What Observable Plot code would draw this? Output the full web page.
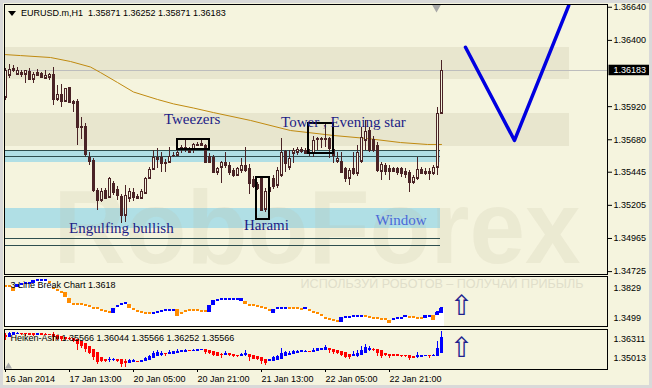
<!DOCTYPE html>
<html><head><meta charset="utf-8">
<script src="https://cdn.jsdelivr.net/npm/d3@7"></script>
<script src="https://cdn.jsdelivr.net/npm/@observablehq/plot@0.6"></script>
<style>
html,body{margin:0;padding:0;background:#fff;}
#chart{position:relative;width:652px;height:388px;background:#F5F4DE;overflow:hidden;font-family:"Liberation Sans",Arial,sans-serif;font-size:9px;color:#000;}
#chart svg{position:absolute;left:0;}
#edge{position:absolute;left:0;top:0;width:652px;height:388px;box-shadow:inset 0 0 0 3px #D9D9D9;pointer-events:none;z-index:5;}
#hdr{position:absolute;left:21px;top:8px;white-space:pre;line-height:11px;z-index:4;}
#tri{position:absolute;left:8px;top:11px;width:0;height:0;border-left:4px solid transparent;border-right:4px solid transparent;border-top:5px solid #000;z-index:4;}
</style></head>
<body><div id="chart"><div id="tri"></div><div id="hdr"></div><div id="edge"></div></div>
<script>
// ---------- main candles (EURUSD.m H1) ----------
const open = [
1.35986,1.36145,1.36196,1.36153,1.36167,1.36153,1.36174,1.36116,1.36167,1.36160,
1.36124,1.36131,1.36153,1.35972,1.36008,1.35957,1.36058,1.35957,1.35957,1.35769,
1.35776,1.35552,1.35530,1.35313,1.35240,1.35313,1.35262,1.35363,1.35320,1.35269,
1.35132,1.35255,1.35298,1.35269,1.35255,1.35291,1.35399,1.35465,1.35552,1.35552,
1.35508,1.35515,1.35566,1.35566,1.35617,1.35609,1.35609,1.35609,1.35646,1.35653,
1.35638,1.35559,1.35552,1.35443,1.35479,1.35515,1.35494,1.35457,1.35421,1.35457,
1.35494,1.35472,1.35392,1.35356,1.35407,1.35175,1.35305,1.35399,1.35349,1.35421,
1.35595,1.35479,1.35581,1.35588,1.35609,1.35602,1.35581,1.35581,1.35682,1.35682,
1.35682,1.35689,1.35609,1.35523,1.35523,1.35472,1.35399,1.35472,1.35436,1.35523,
1.35675,1.35747,1.35682,1.35638,1.35450,1.35494,1.35472,1.35472,1.35472,1.35472,
1.35450,1.35443,1.35370,1.35399,1.35465,1.35450,1.35450,1.35436,1.35479,1.35871];
const high = [
1.36196,1.36225,1.36218,1.36203,1.36182,1.36182,1.36196,1.36167,1.36189,1.36167,
1.36182,1.36160,1.36203,1.36073,1.36080,1.36051,1.36058,1.35964,1.35972,1.35841,
1.35798,1.35588,1.35544,1.35327,1.35327,1.35327,1.35407,1.35378,1.35342,1.35284,
1.35349,1.35327,1.35327,1.35284,1.35320,1.35407,1.35479,1.35602,1.35617,1.35588,
1.35537,1.35624,1.35588,1.35660,1.35638,1.35675,1.35624,1.35653,1.35660,1.35675,
1.35646,1.35581,1.35566,1.35479,1.35523,1.35588,1.35515,1.35472,1.35479,1.35544,
1.35624,1.35501,1.35414,1.35370,1.35414,1.35327,1.35349,1.35421,1.35479,1.35689,
1.35602,1.35602,1.35617,1.35624,1.35624,1.35617,1.35609,1.35704,1.35696,1.35696,
1.35798,1.35696,1.35653,1.35588,1.35588,1.35479,1.35472,1.35588,1.35638,1.35769,
1.35820,1.35769,1.35704,1.35660,1.35515,1.35508,1.35494,1.35479,1.35479,1.35479,
1.35472,1.35457,1.35421,1.35552,1.35479,1.35472,1.35472,1.35494,1.35914,1.36252];
const low = [
1.35964,1.36124,1.36167,1.36145,1.36131,1.36087,1.36109,1.36087,1.36138,1.36124,
1.36116,1.36109,1.35928,1.35957,1.35914,1.35950,1.35950,1.35877,1.35638,1.35682,
1.35552,1.35494,1.35298,1.35168,1.35226,1.35255,1.35255,1.35276,1.35240,1.35074,
1.35081,1.35226,1.35233,1.35255,1.35255,1.35291,1.35392,1.35457,1.35472,1.35443,
1.35443,1.35508,1.35552,1.35559,1.35581,1.35588,1.35581,1.35581,1.35638,1.35631,
1.35508,1.35508,1.35436,1.35421,1.35363,1.35472,1.35421,1.35407,1.35414,1.35436,
1.35443,1.35284,1.35327,1.35313,1.35160,1.35153,1.35291,1.35320,1.35327,1.35407,
1.35443,1.35457,1.35508,1.35566,1.35581,1.35573,1.35559,1.35552,1.35602,1.35617,
1.35624,1.35544,1.35508,1.35508,1.35436,1.35370,1.35349,1.35421,1.35414,1.35508,
1.35602,1.35588,1.35588,1.35443,1.35385,1.35421,1.35385,1.35443,1.35421,1.35407,
1.35399,1.35298,1.35356,1.35385,1.35436,1.35421,1.35385,1.35421,1.35421,1.35871];
const close = [
1.36182,1.36189,1.36182,1.36182,1.36153,1.36182,1.36116,1.36153,1.36145,1.36131,
1.36145,1.36153,1.35972,1.36008,1.35957,1.36051,1.35950,1.35943,1.35769,1.35776,
1.35573,1.35523,1.35313,1.35240,1.35305,1.35255,1.35399,1.35298,1.35276,1.35132,
1.35276,1.35305,1.35262,1.35255,1.35305,1.35399,1.35465,1.35552,1.35537,1.35508,
1.35515,1.35559,1.35563,1.35588,1.35624,1.35624,1.35588,1.35646,1.35642,1.35638,
1.35515,1.35515,1.35443,1.35472,1.35515,1.35494,1.35443,1.35421,1.35472,1.35494,
1.35457,1.35363,1.35342,1.35327,1.35168,1.35305,1.35334,1.35342,1.35457,1.35588,
1.35508,1.35544,1.35602,1.35609,1.35595,1.35581,1.35588,1.35675,1.35689,1.35689,
1.35689,1.35617,1.35566,1.35544,1.35443,1.35399,1.35457,1.35436,1.35588,1.35696,
1.35740,1.35602,1.35602,1.35457,1.35501,1.35450,1.35450,1.35450,1.35443,1.35436,
1.35428,1.35370,1.35407,1.35465,1.35436,1.35436,1.35436,1.35479,1.35871,1.36183];

// moving average (read at points)
const maBar   = [0,3.75,11.25,16.25,21.25,23.75,28,32,38,42,47,52,61.25,71.25,75.5,82,90.5,98.75,105.5,109];
const maPrice = [1.36297,1.36290,1.36276,1.36247,1.36207,1.36167,1.36095,1.36026,1.35972,1.35940,1.35910,1.35877,1.35820,1.35747,1.35733,1.35711,1.35689,1.35660,1.35646,1.35646];

// main y axis
const mainTicks = [1.36640,1.36400,1.35920,1.35680,1.35445,1.35205,1.34965,1.34725];
const mainDomain = [1.34704,1.36660];

// analysis zones
const bandTop = [1.36345,1.35870], bandBottom = [1.36120,1.35631], bandEnd = 141;
const zoneTop = [1.35602,1.35182], zoneBottom = [1.35512,1.35040], zoneEnd = 108.75;
const zoneLines = [1.35602,1.35559,1.34967,1.34914];

// pattern boxes
const boxBar1 = [42.9,62.75,75.8], boxBar2 = [51.1,66.1,82.1];
const boxTop = [1.35680,1.35409,1.35801], boxBottom = [1.35607,1.35104,1.35584];

// notes
const noteText  = ["Tweezers","Tower , Evening star","Engulfing bullish","Harami","Window"];
const noteBar   = [39.6,68.9,15.9,59.6,92.5];
const notePrice = [1.35794,1.35776,1.35005,1.35023,1.35059];
const noteColor = ["#1c1c86","#1c1c86","#1c1c86","#1c1c86","#4a68d8"];

// forecast V
const vBar = [115,127.25,140.8], vPrice = [1.36350,1.35675,1.36652];

// ---------- 3 Line Break ----------
const lbAxis = [1.3829,1.3499];
const lbLevel = [
1.3763,1.3763,1.3743,1.3770,1.3776,1.3783,1.3783,1.3796,1.3803,1.3803,
1.3803,1.3789,1.3750,1.3737,1.3723,1.3704,1.3671,1.3644,1.3644,1.3644,
1.3638,1.3631,1.3618,1.3618,1.3605,1.3598,1.3591,1.3605,1.3631,1.3644,
1.3651,1.3631,1.3611,1.3598,1.3591,1.3585,1.3585,1.3585,1.3591,1.3598,
1.3605,1.3605,1.3605,1.3585,1.3585,1.3598,1.3605,1.3605,1.3605,1.3598,
1.3598,1.3618,1.3657,1.3671,1.3677,1.3677,1.3677,1.3677,1.3677,1.3677,
1.3657,1.3638,1.3638,1.3631,1.3624,1.3618,1.3605,1.3598,1.3618,1.3618,
1.3618,1.3618,1.3618,1.3618,1.3611,1.3618,1.3605,1.3591,1.3585,1.3572,
1.3552,1.3545,1.3539,1.3532,1.3545,1.3558,1.3558,1.3565,1.3565,1.3565,
1.3565,1.3558,1.3552,1.3552,1.3545,1.3545,1.3532,1.3545,1.3552,1.3552,
1.3565,1.3558,1.3558,1.3552,1.3552,1.3565,1.3565,1.3558,1.3591,1.3618];
const lbRunDir = ["o","b","o","b","o","b","o","b","o","b","o","b","o","b","o","b","o","b","o","b"];
const lbRunLen = [3,8,16,4,6,6,8,9,7,4,4,1,8,6,7,4,4,2,1,2];
const lbBlockBar = [2,3,7,15,16,27,31,43,51,52,59,60,67,75,84,96,100,105,107,108,109];
const lbBlockHi  = [1.3756,1.3776,1.3803,1.3723,1.3684,1.3618,1.3644,1.3611,1.3638,1.3671,1.3684,1.3664,1.3611,1.3624,1.3558,1.3539,1.3572,1.3572,1.3572,1.3591,1.3618];
const lbBlockLo  = [1.3730,1.3756,1.3783,1.3690,1.3651,1.3585,1.3618,1.3565,1.3591,1.3638,1.3664,1.3644,1.3585,1.3611,1.3525,1.3519,1.3558,1.3552,1.3539,1.3572,1.3585];
const lbWatermark = "ИСПОЛЬЗУЙ РОБОТОВ – ПОЛУЧАЙ ПРИБЫЛЬ";

// ---------- Heiken Ashi ----------
const haAxis = [1.36311,1.35013];
const haLegend = [1.35566,1.36044,1.35566,1.36252,1.35566];

// ---------- time axis ----------
const timeBars = [0,16,32,48,64,80,96];
const timeLabels = ["16 Jan 2014","17 Jan 13:00","20 Jan 05:00","20 Jan 21:00","21 Jan 13:00","22 Jan 05:00","22 Jan 21:00"];
const arrowBar = 114, lbArrow = 1.3631, haArrow = 1.35695, shiftBar = 107.75;

// ---------- build ----------
const BG = "#F5F4DE", CANDLE = "#4a2326", ORANGE = "#FF8C00", BLUE = "#0000FF";
const N = open.length, last = N - 1, bars = d3.range(N);
const xDomain = [-0.25, 150.5], W = 652;
const FONT = "'Liberation Sans', Arial, sans-serif";
const style = {background: "transparent", fontFamily: FONT, fontSize: "9px", color: "#000", overflow: "visible"};
const L = xDomain[0];

const candles = bars.map(i => ({i, o: open[i], h: high[i], l: low[i], c: close[i], up: close[i] > open[i]}));
const ma = maBar.map((b, k) => ({b, p: maPrice[k]}));
const bands = bandTop.map((t, k) => ({t, b: bandBottom[k]}));
const zones = zoneTop.map((t, k) => ({t, b: zoneBottom[k]}));
const boxes = boxBar1.map((b1, k) => ({b1, b2: boxBar2[k], t: boxTop[k], b: boxBottom[k]}));
const notes = noteText.map((s, k) => ({s, b: noteBar[k], p: notePrice[k], c: noteColor[k]}));
const vline = vBar.map((b, k) => ({b, p: vPrice[k]}));

document.getElementById("hdr").textContent =
  "EURUSD.m,H1  " + [open[last], high[last], low[last], close[last]].map(v => v.toFixed(5)).join(" ");

const main = Plot.plot({
  width: W, height: 275, marginTop: 4, marginBottom: 1, marginLeft: 4, marginRight: 45, style,
  x: {domain: xDomain, axis: null},
  y: {domain: mainDomain},
  marks: [
    Plot.rect(bands, {x1: () => L, x2: () => bandEnd, y1: "b", y2: "t", fill: "#E8E6CE", shapeRendering: "crispEdges"}),
    Plot.rect(zones, {x1: () => L, x2: () => zoneEnd, y1: "b", y2: "t", fill: "#B0DFE5", shapeRendering: "crispEdges"}),
    Plot.text(["RoboForex"], {frameAnchor: "bottom-left", dx: 49, dy: -12, lineAnchor: "bottom", textAnchor: "start",
      fontSize: 104, fontWeight: "bold", fill: "#BDB99A", fillOpacity: 0.17, text: d => d}),
    Plot.ruleY(zoneLines, {y: d => d, x1: () => L, x2: () => zoneEnd, stroke: "#2F4F4F", shapeRendering: "crispEdges"}),
    Plot.ruleY([close[last]], {stroke: "#BDBDBD", shapeRendering: "crispEdges"}),
    Plot.line(ma, {x: "b", y: "p", stroke: "#C08A10", strokeWidth: 1}),
    Plot.ruleX(candles, {x: "i", y1: "l", y2: "h", stroke: CANDLE, shapeRendering: "crispEdges"}),
    Plot.rect(candles, {x1: d => d.i - 0.25, x2: d => d.i + 0.5, y1: d => Math.min(d.o, d.c), y2: d => Math.max(d.o, d.c), fill: CANDLE, shapeRendering: "crispEdges"}),
    Plot.rect(candles.filter(d => d.up), {x1: d => d.i, x2: d => d.i + 0.25, y1: "o", y2: "c", insetTop: 1, insetBottom: 1, fill: BG, shapeRendering: "crispEdges"}),
    Plot.ruleY(candles, {y: "c", x1: d => d.i - 0.25, x2: d => d.i + 0.5, stroke: CANDLE, shapeRendering: "crispEdges"}),
    Plot.ruleY(candles, {y: "o", x1: d => d.i - 0.25, x2: d => d.i + 0.5, stroke: CANDLE, shapeRendering: "crispEdges"}),
    Plot.rect(boxes, {x1: "b1", x2: "b2", y1: "b", y2: "t", fill: "none", stroke: "#000", strokeWidth: 2, shapeRendering: "crispEdges"}),
    Plot.text(notes, {x: "b", y: "p", text: "s", fill: "c", fontFamily: "'Liberation Serif', 'Times New Roman', serif", fontSize: 15, textAnchor: "start", lineAnchor: "bottom"}),
    Plot.line(vline, {x: "b", y: "p", stroke: "#0000E0", strokeWidth: 3.5, clip: true}),
    Plot.dot([shiftBar], {x: d => d, frameAnchor: "top", dy: 3, symbol: "triangle", rotate: 180, r: 3.2, fill: "#A8A8A8", stroke: "none"}),
    Plot.frame({stroke: "#000"}),
    Plot.axisY(mainTicks, {anchor: "right", tickSize: 4, tickPadding: 2, tickFormat: d => d.toFixed(5)}),
    Plot.text([close[last]], {y: d => d, frameAnchor: "right", dx: 6, textAnchor: "start", fill: "white", text: d => d.toFixed(5)})
  ]
});

// 3 line break
const lbDir = lbRunDir.flatMap((d, k) => Array(lbRunLen[k]).fill(d));
const lbData = bars.map(i => ({i, v: lbLevel[i], col: lbDir[i] === "b" ? BLUE : ORANGE}));
const lbBlocks = lbBlockBar.map((i, k) => ({i, hi: lbBlockHi[k], lo: lbBlockLo[k], col: lbDir[i] === "b" ? BLUE : ORANGE}));
const lbTitle = "3 Line Break Chart " + lbLevel[last].toFixed(4);

const lbPlot = Plot.plot({
  width: W, height: 52, marginTop: 1, marginBottom: 1, marginLeft: 4, marginRight: 45, style,
  x: {domain: xDomain, axis: null},
  y: {domain: [lbAxis[1], lbAxis[0]], axis: null},
  marks: [
    Plot.text([lbWatermark], {frameAnchor: "top-left", dx: 296, dy: 7, lineAnchor: "middle", textAnchor: "start", fontSize: 12.5, fill: "#E0DECA", text: d => d}),
    Plot.rect(lbData, {x1: d => d.i - 0.25, x2: d => d.i + 0.75, y1: () => lbAxis[1], y2: "v", fill: "white", shapeRendering: "crispEdges"}),
    Plot.rect(lbData, {x1: d => d.i - 0.25, x2: d => d.i + 0.5, y1: "v", y2: "v", insetTop: -1, insetBottom: -1, fill: "col", shapeRendering: "crispEdges"}),
    Plot.rect(lbBlocks, {x1: d => d.i - 0.5, x2: d => d.i + 0.5, y1: "lo", y2: "hi", fill: "col", shapeRendering: "crispEdges"}),
    Plot.text([lbTitle], {frameAnchor: "top-left", dx: 6, dy: 9, lineAnchor: "middle", textAnchor: "start", text: d => d}),
    Plot.text(["⇧"], {x: () => arrowBar, y: () => lbArrow, fontFamily: "'DejaVu Sans', sans-serif", fontSize: 28, fill: "#1F1F8F", text: d => d}),
    Plot.frame({stroke: "#000"}),
    Plot.text([lbAxis[0]], {frameAnchor: "top-right", dx: 6, dy: 8, textAnchor: "start", text: d => d.toFixed(4)}),
    Plot.text([lbAxis[1]], {frameAnchor: "bottom-right", dx: 6, dy: -6, textAnchor: "start", text: d => d.toFixed(4)})
  ]
});

// Heiken Ashi (computed from candles)
const ha = [];
let po, pc;
bars.forEach(i => {
  const c = (open[i] + high[i] + low[i] + close[i]) / 4;
  const o = i === 0 ? (open[i] + close[i]) / 2 : (po + pc) / 2;
  ha.push({i, o, c, h: Math.max(high[i], o, c), l: Math.min(low[i], o, c), col: c >= o ? BLUE : "#FF0000"});
  po = o; pc = c;
});
const haTitle = "Heiken-Ashi " + haLegend.map(v => v.toFixed(5)).join(" ");
const timeLabelOf = new Map(timeBars.map((b, k) => [b, timeLabels[k]]));

const haPlot = Plot.plot({
  width: W, height: 60, marginTop: 1, marginBottom: 19, marginLeft: 4, marginRight: 45, style,
  x: {domain: xDomain},
  y: {domain: [haAxis[1], haAxis[0]], axis: null},
  marks: [
    Plot.ruleX(ha, {x: "i", y1: "l", y2: "h", stroke: "col", shapeRendering: "crispEdges"}),
    Plot.rect(ha, {x1: d => d.i - 0.25, x2: d => d.i + 0.5, y1: d => Math.min(d.o, d.c), y2: d => Math.max(d.o, d.c), insetTop: -0.5, insetBottom: -0.5, fill: "col", shapeRendering: "crispEdges"}),
    Plot.text([haTitle], {frameAnchor: "top-left", dx: 6, dy: 8.5, lineAnchor: "middle", textAnchor: "start", text: d => d}),
    Plot.text(["⇧"], {x: () => arrowBar, y: () => haArrow, fontFamily: "'DejaVu Sans', sans-serif", fontSize: 28, fill: "#1F1F8F", text: d => d}),
    Plot.dot([0], {frameAnchor: "bottom-left", dx: 4, dy: -3, symbol: "triangle", r: 2.6, fill: "#AAAAAA", stroke: "none"}),
    Plot.frame({stroke: "#000"}),
    Plot.text([haAxis[0]], {frameAnchor: "top-right", dx: 6, dy: 6, textAnchor: "start", text: d => d.toFixed(5)}),
    Plot.text([haAxis[1]], {frameAnchor: "bottom-right", dx: 6, dy: -9, textAnchor: "start", text: d => d.toFixed(5)}),
    Plot.axisX(timeBars, {anchor: "bottom", tickSize: 3, tickPadding: 3, textAnchor: "start", tickFormat: d => timeLabelOf.get(d), label: null})
  ]
});

const chart = document.getElementById("chart");
function place(svg, top) { svg.style.top = top + "px"; chart.appendChild(svg); }
place(main, 0); place(lbPlot, 275); place(haPlot, 328);

// decorations needing measured text
function findText(svg, s) { return Array.from(svg.querySelectorAll("text")).find(n => n.textContent === s); }
const wm = findText(main, "RoboForex");
if (wm) { wm.setAttribute("textLength", 527); wm.setAttribute("lengthAdjust", "spacingAndGlyphs"); }
const wm2 = findText(lbPlot, lbWatermark);
if (wm2) { wm2.setAttribute("textLength", 283); wm2.setAttribute("lengthAdjust", "spacingAndGlyphs"); }
const cur = findText(main, close[last].toFixed(5));
if (cur) {
  const bb = cur.getBBox();
  const r = document.createElementNS("http://www.w3.org/2000/svg", "rect");
  r.setAttribute("x", bb.x - 5); r.setAttribute("y", bb.y - 0.5);
  r.setAttribute("width", bb.width + 9); r.setAttribute("height", bb.height + 0.5);
  r.setAttribute("fill", "#000");
  const tr = cur.getAttribute("transform");
  if (tr) r.setAttribute("transform", tr);
  cur.parentNode.insertBefore(r, cur);
}
</script></body></html>
